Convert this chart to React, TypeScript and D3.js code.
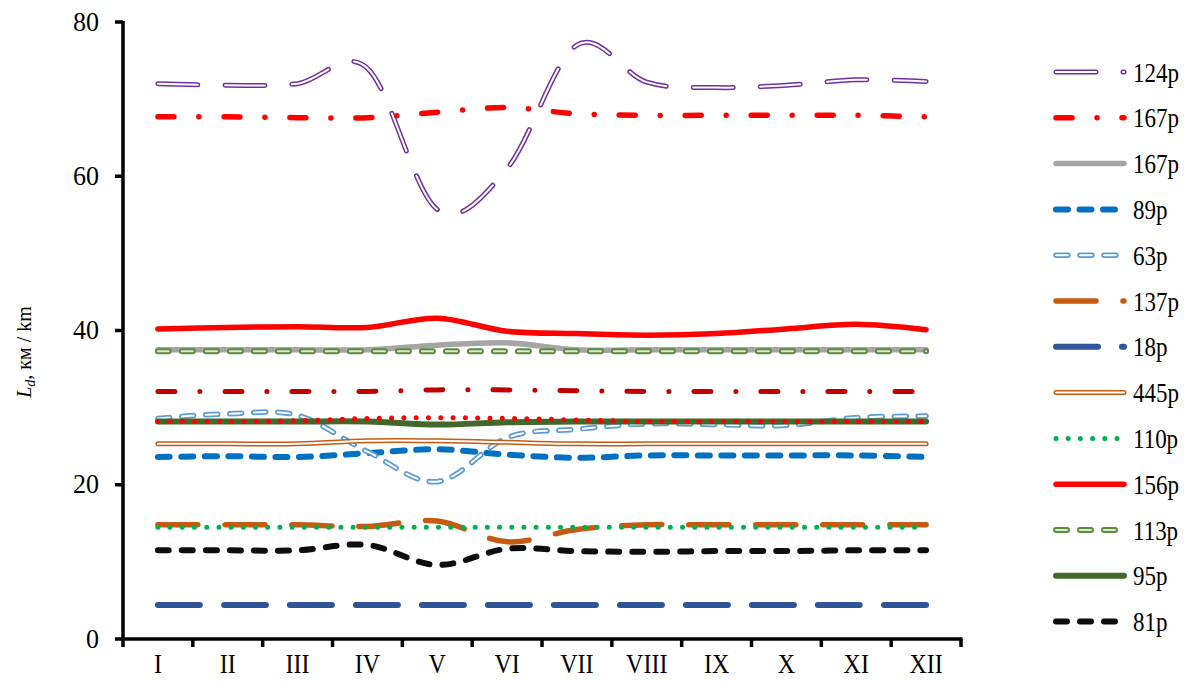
import React from "react";
import * as d3 from "d3";

const months = ["I", "II", "III", "IV", "V", "VI", "VII", "VIII", "IX", "X", "XI", "XII"];
const yTicks = [0, 20, 40, 60, 80];

const s124 = [72.0, 71.8, 72.0, 74.0, 55.7, 61.0, 77.0, 72.2, 71.5, 71.8, 72.5, 72.3];
const s167a = [67.7, 67.7, 67.6, 67.6, 68.3, 68.9, 68.1, 67.9, 67.9, 67.9, 67.9, 67.7];
const s167b = [37.5, 37.5, 37.5, 37.5, 38.1, 38.4, 37.5, 37.5, 37.5, 37.5, 37.5, 37.5];
const s89 = [23.6, 23.7, 23.6, 24.1, 24.6, 23.9, 23.5, 23.8, 23.8, 23.8, 23.8, 23.6];
const s63 = [28.6, 29.2, 29.0, 24.3, 20.4, 26.1, 27.2, 27.9, 27.8, 27.7, 28.7, 28.9];
const s137 = [14.8, 14.8, 14.8, 14.6, 15.3, 12.6, 14.2, 14.8, 14.8, 14.8, 14.8, 14.8];
const s18 = [4.4, 4.4, 4.4, 4.4, 4.4, 4.4, 4.4, 4.4, 4.4, 4.4, 4.4, 4.4];
const s445 = [25.3, 25.3, 25.3, 25.7, 25.7, 25.5, 25.3, 25.3, 25.3, 25.3, 25.3, 25.3];
const s110 = [14.5, 14.5, 14.5, 14.5, 14.5, 14.5, 14.5, 14.5, 14.5, 14.5, 14.5, 14.5];
const s156 = [40.2, 40.4, 40.5, 40.4, 41.6, 39.9, 39.6, 39.4, 39.6, 40.2, 40.8, 40.1];
const s113 = [37.3, 37.3, 37.3, 37.3, 37.3, 37.3, 37.3, 37.3, 37.3, 37.3, 37.3, 37.3];
const s95 = [28.2, 28.2, 28.2, 28.2, 27.8, 28.1, 28.2, 28.2, 28.2, 28.2, 28.2, 28.2];
const s81 = [11.5, 11.5, 11.5, 12.2, 9.6, 11.7, 11.4, 11.3, 11.4, 11.4, 11.5, 11.5];
const sDarkRed = [32.1, 32.1, 32.1, 32.1, 32.3, 32.3, 32.2, 32.1, 32.1, 32.1, 32.1, 32.1];
const sRedDot = [28.2, 28.2, 28.3, 28.6, 28.7, 28.6, 28.4, 28.2, 28.2, 28.2, 28.2, 28.2];

type Ser = {
  name: string | null;
  values: number[];
  color: string;
  width: number;
  dash?: string;
  inner?: { color: string; width: number };
};

const series: Ser[] = [
  { name: "124p", values: s124, color: "#7030A0", width: 5, dash: "40 27", inner: { color: "#ffffff", width: 2 } },
  { name: "167p", values: s167a, color: "#FF0000", width: 5.5, dash: "16 25 0 25" },
  { name: "167p", values: s167b, color: "#A5A5A5", width: 5.5 },
  { name: "89p", values: s89, color: "#0070C0", width: 6, dash: "12 11.5" },
  { name: "63p", values: s63, color: "#5B9BD5", width: 5.5, dash: "12 12", inner: { color: "#ffffff", width: 2 } },
  { name: "137p", values: s137, color: "#C55A11", width: 5.5, dash: "40 27" },
  { name: "18p", values: s18, color: "#2F5597", width: 6, dash: "42 24" },
  { name: "445p", values: s445, color: "#C55A11", width: 5, inner: { color: "#ffffff", width: 2 } },
  { name: "110p", values: s110, color: "#00B050", width: 5, dash: "0 12.2" },
  { name: "156p", values: s156, color: "#FF0000", width: 5.5 },
  { name: "113p", values: s113, color: "#5E8C3E", width: 6, dash: "11 13", inner: { color: "#D9EAD3", width: 2 } },
  { name: "95p", values: s95, color: "#43682B", width: 6 },
  { name: "81p", values: s81, color: "#0D0D0D", width: 6, dash: "11 13" },
  { name: null, values: sDarkRed, color: "#C00000", width: 5, dash: "17 25 0 25" },
  { name: null, values: sRedDot, color: "#FF0000", width: 5, dash: "0 12.3" },
];

const X0 = 123;
const X1 = 961;
const Y0 = 639;
const Y1 = 22;

export default function App() {
  const x = d3.scaleBand<string>().domain(months).range([X0, X1]).padding(0);
  const y = d3.scaleLinear().domain([0, 80]).range([Y0, Y1]);
  const cx = (m: string) => (x(m) as number) + x.bandwidth() / 2;
  const line = d3
    .line<number>()
    .x((_, i) => cx(months[i]))
    .y((v) => y(v))
    .curve(d3.curveCatmullRom.alpha(0));

  const font = "'Liberation Serif', 'Times New Roman', serif";
  const legendItems = series.filter((s) => s.name !== null);
  const legY = (i: number) => 72 + i * 45.8;

  const boundaries = months.map((m) => x(m) as number).concat([X1]);

  return (
    <svg
      width={1184}
      height={683}
      style={{ position: "absolute", left: 0, top: 0, background: "#fff" }}
      fontFamily={font}
    >
      <rect x={0} y={0} width={1184} height={683} fill="#fff" />
      {series.map((s, i) => {
        const d = line(s.values) || "";
        return (
          <g key={i}>
            <path d={d} fill="none" stroke={s.color} strokeWidth={s.width} strokeDasharray={s.dash} strokeLinecap="round" strokeLinejoin="round" />
            {s.inner && (
              <path d={d} fill="none" stroke={s.inner.color} strokeWidth={s.inner.width} strokeDasharray={s.dash} strokeLinecap="round" strokeLinejoin="round" />
            )}
          </g>
        );
      })}

      <line x1={X0} y1={Y1 - 1} x2={X0} y2={Y0 + 1.5} stroke="#000" strokeWidth={3.5} />
      <line x1={X0 - 1.5} y1={Y0} x2={X1 + 1.5} y2={Y0} stroke="#000" strokeWidth={3.5} />
      {yTicks.map((t) => (
        <g key={t}>
          <line x1={X0 - 8} x2={X0} y1={y(t)} y2={y(t)} stroke="#000" strokeWidth={3.5} />
          <text transform={`translate(99,${y(t) + 8.5}) scale(1,1.04)`} textAnchor="end" fontSize={26}>
            {t}
          </text>
        </g>
      ))}
      {boundaries.map((b, i) => (
        <line key={i} x1={b} x2={b} y1={Y0} y2={Y0 + 8} stroke="#000" strokeWidth={3.5} />
      ))}
      {months.map((m) => (
        <text key={m} transform={`translate(${cx(m)},673) scale(1,1.15)`} textAnchor="middle" fontSize={24}>
          {m}
        </text>
      ))}

      <text transform="translate(31,352) rotate(-90)" textAnchor="middle" fontSize={20}>
        <tspan fontStyle="italic">L</tspan>
        <tspan fontStyle="italic" fontSize={14} dy={4}>
          d
        </tspan>
        <tspan dy={-4}>, км / km</tspan>
      </text>

      {legendItems.map((s, i) => {
        const yy = legY(i);
        const x1 = 1056;
        const x2 = 1124;
        return (
          <g key={i}>
            <line x1={x1} x2={x2} y1={yy} y2={yy} stroke={s.color} strokeWidth={s.width} strokeDasharray={s.dash} strokeLinecap="round" />
            {s.inner && (
              <line x1={x1} x2={x2} y1={yy} y2={yy} stroke={s.inner.color} strokeWidth={s.inner.width} strokeDasharray={s.dash} strokeLinecap="round" />
            )}
            <text transform={`translate(1133,${yy + 9.5}) scale(1,1.16)`} fontSize={23}>
              {s.name}
            </text>
          </g>
        );
      })}
    </svg>
  );
}
